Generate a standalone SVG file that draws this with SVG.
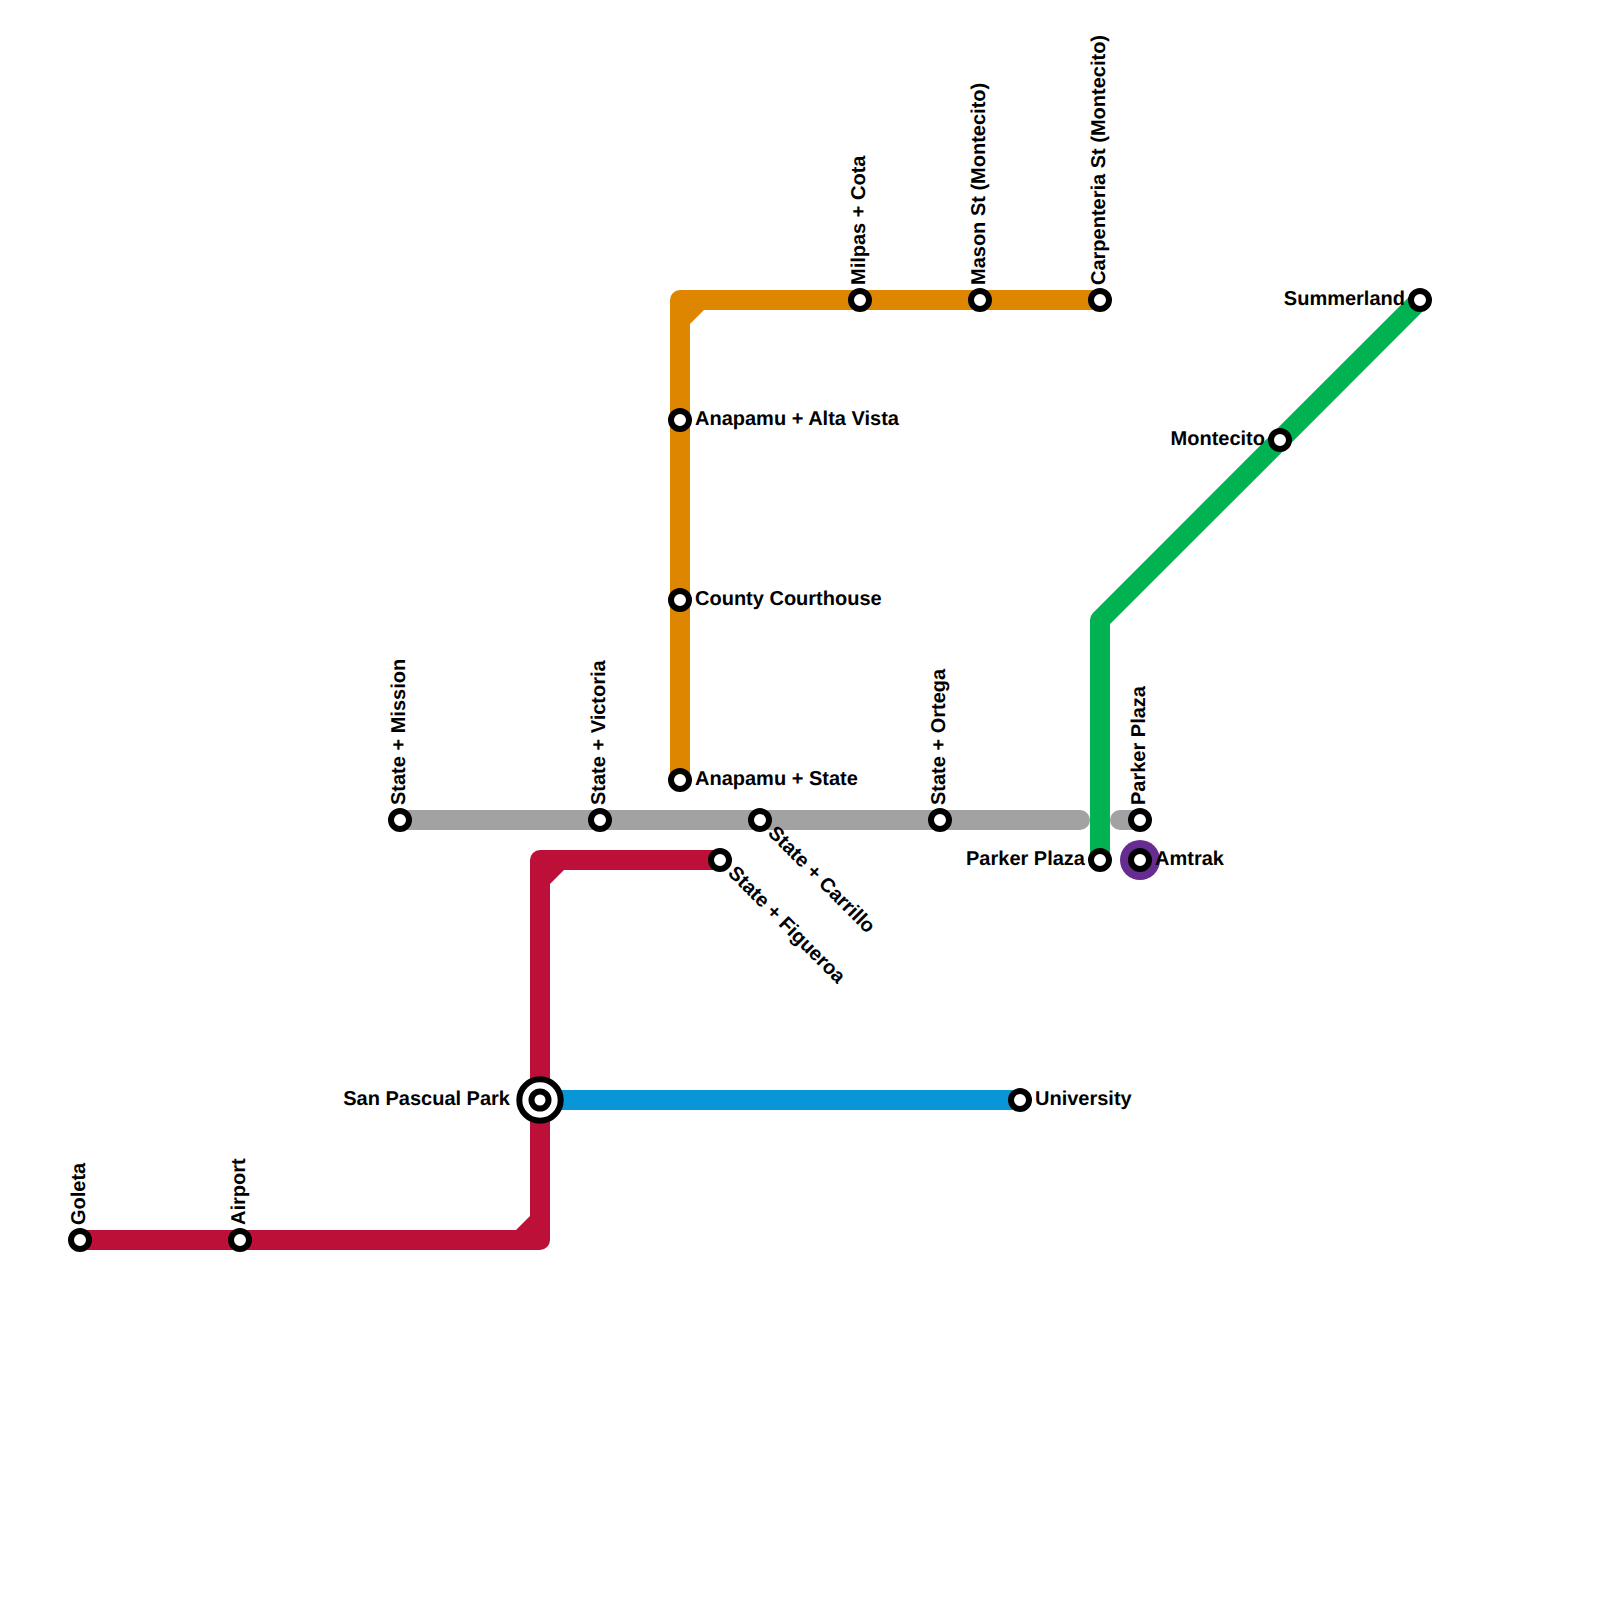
<svg xmlns="http://www.w3.org/2000/svg" width="1600" height="1600" viewBox="0 0 1600 1600">
<style>
.l{fill:none;stroke-width:20;stroke-linecap:round;stroke-linejoin:round}
.s{fill:#fff;stroke:#000;stroke-width:6}
text{font-family:"Liberation Sans",Arial,sans-serif;font-weight:700;font-size:20px;fill:#000;text-rendering:geometricPrecision}
.e{text-anchor:end}
</style>
<rect width="1600" height="1600" fill="#fff"/>
<g id="connectors">
<path class="l" stroke="#a2a2a2" d="M400 820H1080M1120 820H1140"/>
<path class="l" stroke="#df8600" d="M680 780V300H1100"/>
<path d="M689 325L705 309H689Z" fill="#df8600"/>
<path class="l" stroke="#bd1038" d="M80 1240H540V860H720"/>
<path d="M515 1231L531 1215V1231ZM549 885L565 869H549Z" fill="#bd1038"/>
<path class="l" stroke="#0896d7" d="M540 1100H1020"/>
<path class="l" stroke="#00b251" d="M1100 860V620L1420 300"/>
</g>
<g id="amtrak-ring"><circle cx="1140" cy="860" r="20" fill="#662c90"/></g>
<g id="goleta"><circle class="s" cx="80" cy="1240" r="9"/><text transform="translate(85 1225) rotate(-90)">Goleta</text></g>
<g id="airport"><circle class="s" cx="240" cy="1240" r="9"/><text transform="translate(245 1225) rotate(-90)">Airport</text></g>
<g id="san-pascual-park"><circle class="s" cx="540" cy="1100" r="20.7"/><circle class="s" cx="540" cy="1100" r="8.5"/><text class="e" x="510" y="1105">San Pascual Park</text></g>
<g id="university"><circle class="s" cx="1020" cy="1100" r="9"/><text x="1035" y="1105">University</text></g>
<g id="state-mission"><circle class="s" cx="400" cy="820" r="9"/><text transform="translate(405 805) rotate(-90)">State + Mission</text></g>
<g id="state-victoria"><circle class="s" cx="600" cy="820" r="9"/><text transform="translate(605 805) rotate(-90)">State + Victoria</text></g>
<g id="state-carrillo"><circle class="s" cx="760" cy="820" r="9"/><text transform="translate(767 834) rotate(45)">State + Carrillo</text></g>
<g id="state-figueroa"><circle class="s" cx="720" cy="860" r="9"/><text transform="translate(727 874) rotate(45)">State + Figueroa</text></g>
<g id="state-ortega"><circle class="s" cx="940" cy="820" r="9"/><text transform="translate(945 805) rotate(-90)">State + Ortega</text></g>
<g id="anapamu-state"><circle class="s" cx="680" cy="780" r="9"/><text x="695" y="785">Anapamu + State</text></g>
<g id="county-courthouse"><circle class="s" cx="680" cy="600" r="9"/><text x="695" y="605">County Courthouse</text></g>
<g id="anapamu-alta-vista"><circle class="s" cx="680" cy="420" r="9"/><text x="695" y="425">Anapamu + Alta Vista</text></g>
<g id="milpas-cota"><circle class="s" cx="860" cy="300" r="9"/><text transform="translate(865 285) rotate(-90)">Milpas + Cota</text></g>
<g id="mason"><circle class="s" cx="980" cy="300" r="9"/><text transform="translate(985 285) rotate(-90)">Mason St (Montecito)</text></g>
<g id="carpenteria"><circle class="s" cx="1100" cy="300" r="9"/><text transform="translate(1105 285) rotate(-90)">Carpenteria St (Montecito)</text></g>
<g id="summerland"><circle class="s" cx="1420" cy="300" r="9"/><text class="e" x="1405" y="305">Summerland</text></g>
<g id="montecito"><circle class="s" cx="1280" cy="440" r="9"/><text class="e" x="1265" y="445">Montecito</text></g>
<g id="parker-plaza-green"><circle class="s" cx="1100" cy="860" r="9"/><text class="e" x="1085" y="865">Parker Plaza</text></g>
<g id="parker-plaza-gray"><circle class="s" cx="1140" cy="820" r="9"/><text transform="translate(1145 805) rotate(-90)">Parker Plaza</text></g>
<g id="amtrak"><circle class="s" cx="1140" cy="860" r="9"/><text x="1155" y="865">Amtrak</text></g>
</svg>
